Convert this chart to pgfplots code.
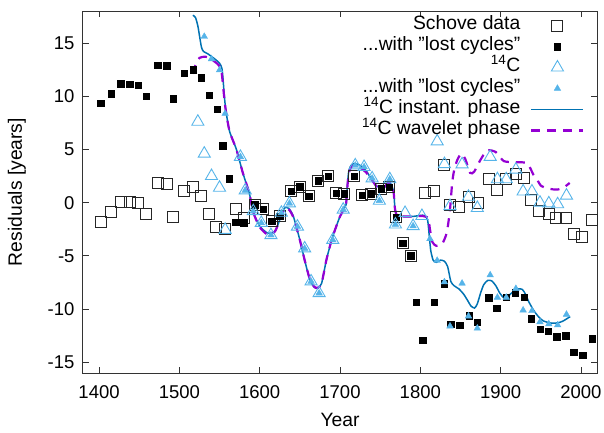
\documentclass[border=0pt]{standalone}
\usepackage{fontspec}
\setmainfont{Liberation Sans}
\usepackage{pgfplots}
\pgfplotsset{compat=1.18}
\definecolor{cfourteen}{HTML}{56B4E9}
\definecolor{instblue}{HTML}{0072B2}
\definecolor{wavpurple}{HTML}{9400D3}
\newcommand{\tickf}{\fontsize{18.5}{21}\selectfont}
\newcommand{\bigf}{\fontsize{19.3}{22}\selectfont}
\pgfplotsset{
 mylineleg/.style={legend image code/.code={\draw[##1] (0pt,0pt) -- (52pt,0pt);}},
 mymarkleg/.style={legend image code/.code={\draw[##1, mark repeat=2, mark phase=2] plot coordinates {(0pt,0pt) (26pt,0pt) (52pt,0pt)};}},
}
\begin{document}
\begin{tikzpicture}
\path[use as bounding box] (-83pt,-59pt) rectangle (521pt,373pt);
\begin{axis}[name=ax, at={(0pt,0pt)}, anchor=south west,
 scale only axis, width=514pt, height=362pt,
 xmin=1380, xmax=2020, ymin=-16, ymax=18,
 xtick={1400,1500,...,2000}, ytick={-15,-10,...,15},
 tick align=inside, major tick length=6pt,
 /pgf/number format/assume math mode=true,
 ticklabel style={font=\tickf},
 label style={font=\bigf},
 xticklabel style={/pgf/number format/1000 sep={}, anchor=base, yshift=-25pt},
 yticklabel style={anchor=east, xshift=-5pt},
 axis line style={line width=1pt, black!80},
 every tick/.style={line width=0.8pt, black!80},
 xlabel={Year}, ylabel={Residuals [years]},
 xlabel style={at={(axis description cs:0.5,0)}, anchor=base, yshift=-53pt},
 ylabel style={at={(axis description cs:0,0.5)}, anchor=center, yshift=66pt},
 legend plot pos=right, legend cell align=right,
 legend style={draw=none, fill=none, font=\bigf, at={(axis description cs:0.982,0.995)}, anchor=north east,
   row sep=0pt, column sep=8pt, nodes={inner sep=2pt, text height=12.8pt, text depth=4.2pt}},
]
% Schove data (open squares)
\addplot[only marks, mark=square, mark size=5.5pt, mark options={draw=black!85, line width=1pt}, mymarkleg] table {
x y
1402 -1.8
1415 -0.85
1427 0.1
1438 0.03
1449 -0.03
1459 -1.1
1473 1.8
1484 1.73
1492 -1.35
1506 1.1
1517 1.45
1527 0.66
1537 -1.02
1546 -2.25
1557 -2.5
1571 -0.55
1581 -1.4
1594 -0.2
1604 -0.6
1615 -1.76
1625 -1.3
1639 1.07
1650 1.5
1661 0.6
1673 2.05
1685 2.5
1695 0.9
1705 0.85
1718 2.5
1728 0.7
1739 0.85
1751 1.32
1761 1.46
1770 -1.35
1778 -3.8
1788 -5.0
1806 0.9
1817 1.08
1830 3.55
1837 -0.25
1848 -0.44
1861 0.57
1872 -0.06
1885 2.2
1895 1.2
1907 2.2
1919 2.7
1929 2.3
1938 0.25
1948 -0.75
1960 -1.07
1969 -1.4
1981 -1.4
1991 -2.9
2001 -3.2
2014 -1.6
};
\addlegendentry{Schove data}
% with lost cycles (filled squares)
\addplot[only marks, mark=square*, mark size=3.2pt, mark options={draw=black, fill=black}, mymarkleg] table {
x y
1402 9.34
1415 10.25
1427 11.16
1438 11.1
1449 11.04
1459 9.97
1473 12.9
1484 12.86
1492 9.75
1506 12.17
1517 12.48
1527 11.73
1537 10.07
1547 8.77
1554 5.35
1562 2.24
1570 -1.82
1580 -1.89
1594 -0.2
1604 -0.6
1615 -1.76
1625 -1.3
1639 1.07
1650 1.5
1661 0.6
1673 2.05
1685 2.5
1695 0.9
1705 0.85
1718 2.5
1728 0.7
1739 0.85
1751 1.32
1761 1.46
1770 -1.35
1778 -3.8
1788 -5.0
1795 -9.35
1803 -12.9
1817 -9.37
1830 -7.6
1838 -11.4
1849 -11.5
1861 -10.6
1871 -11.2
1885 -8.93
1895 -9.9
1907 -8.87
1918 -8.46
1929 -8.87
1938 -10.9
1949 -11.9
1959 -12.1
1970 -12.6
1981 -12.5
1991 -14.06
2002 -14.3
2014 -12.77
};
\addlegendentry{...with ''lost cycles''}
% 14C (open triangles)
\addplot[only marks, mark=triangle, mark size=7pt, mark options={draw=cfourteen, line width=0.9pt}, mymarkleg] table {
x y
1523 7.6
1531 4.6
1540 2.5
1550 1.4
1557 -2.55
1576 4.3
1582 1.15
1592 -0.8
1602 -1.9
1614 -3.05
1627 -0.95
1637 -0.07
1647 -2.25
1656 -4.3
1664 -7.4
1674 -8.5
1691 -3.5
1704 -0.66
1719 3.5
1730 3.35
1740 2.28
1749 0.18
1762 2.2
1769 -2.05
1781 -0.97
1791 -2.2
1802 -1.25
1821 5.75
1830 3.62
1837 -0.32
1852 3.6
1860 0.55
1871 -0.5
1887 4.3
1896 2.2
1907 2.2
1919 3.1
1928 1.05
1939 1.05
1949 0.0
1960 -0.07
1971 -0.15
1982 0.66
};
\addlegendentry{\textsuperscript{14}C}
% 14C with lost cycles (filled triangles)
\addplot[only marks, mark=triangle*, mark size=3.8pt, mark options={draw=cfourteen, fill=cfourteen}, mymarkleg] table {
x y
1531 15.6
1540 13.5
1550 12.45
1557 8.37
1576 4.3
1582 1.15
1592 -0.8
1602 -1.9
1614 -3.05
1627 -0.95
1637 -0.07
1647 -2.25
1656 -4.3
1664 -7.4
1674 -8.5
1691 -3.5
1704 -0.66
1719 3.5
1730 3.35
1740 2.28
1749 0.18
1762 2.2
1769 -2.05
1791 -2.2
1812 -3.4
1821 -5.44
1830 -7.45
1837 -11.6
1852 -7.58
1860 -10.66
1871 -11.8
1887 -6.8
1896 -8.9
1907 -8.9
1919 -8.08
1928 -10.1
1939 -10.16
1949 -11.2
1960 -11.4
1971 -11.5
1982 -10.5
};
\addlegendentry{...with ''lost cycles''}
% instant phase
\addplot[instblue, line width=1.5pt, smooth, tension=0.4, mylineleg] table {
x y
1516.7 17.6
1520 17.4
1523 16.6
1525 15.7
1527.5 14.6
1530 14.2
1535 14.0
1544 13.5
1550 13.1
1553 12.6
1554.5 11.5
1556 10.0
1558 8.6
1562.5 6.7
1571 5.0
1579 2.8
1587 0.9
1592 -0.9
1600 -2.2
1610 -2.86
1619 -2.7
1625 -1.6
1630 -0.6
1633 -0.44
1637 -0.6
1642 -1.3
1650 -3.5
1656 -5.4
1662.5 -7.26
1668 -7.95
1672 -8.05
1677 -7.6
1683 -5.4
1689.6 -3.5
1695 -2.3
1700 -1.3
1705 -0.6
1707.5 -0.2
1709 1.5
1711 3.0
1714.6 3.58
1720 3.65
1725 3.5
1733 2.95
1740 2.1
1746 1.54
1754 1.38
1760 1.8
1763 1.8
1766.7 1.1
1768.5 -0.6
1771 -1.2
1779 -1.3
1790 -1.3
1800 -1.2
1805 -1.2
1809 -1.6
1811 -3.0
1813 -4.5
1816 -5.4
1820 -5.6
1825 -5.4
1830 -5.5
1834 -6.0
1838 -7.4
1842 -7.8
1848 -8.1
1854 -8.6
1859 -9.2
1863 -9.7
1867.5 -9.9
1871 -9.5
1875 -8.5
1879 -7.7
1884 -7.3
1889 -7.35
1894 -7.8
1899 -8.5
1904 -8.95
1908 -8.95
1912 -8.6
1917 -8.3
1922 -8.1
1927 -8.15
1931 -8.6
1935 -9.3
1941 -10.1
1947 -10.7
1953 -11.1
1962 -11.3
1970 -11.3
1977 -11.15
1986.6 -10.7
};
\addlegendentry{\textsuperscript{14}C instant. phase}
% wavelet phase
\addplot[wavpurple, line width=2.2pt, dash pattern=on 9pt off 7pt, smooth, tension=0.4, mylineleg] table {
x y
1517 12.1
1520 12.9
1525 13.6
1533 13.7
1541 13.4
1548 13.0
1551 12.7
1553 12.0
1555 10.5
1557.5 8.8
1562.5 6.7
1571 5.0
1579 2.8
1587 0.9
1592 -0.9
1600 -2.3
1610 -3.0
1619 -2.7
1625 -1.6
1630 -0.6
1633 -0.5
1637 -0.7
1642 -1.4
1650 -3.5
1656 -5.4
1662.5 -7.2
1668 -7.9
1672 -8.0
1677 -7.6
1683 -5.4
1689.6 -3.5
1695 -2.3
1700 -1.3
1705 -0.6
1707.5 -0.2
1709 1.3
1711 2.8
1714.6 3.4
1720 3.5
1725 3.3
1733 2.8
1740 2.1
1746 1.5
1754 1.4
1760 1.9
1763 1.8
1766.7 1.0
1768.5 -0.6
1771 -1.2
1779 -1.3
1790 -1.3
1800 -1.25
1806 -1.3
1810 -1.5
1812 -2.5
1815 -3.7
1820 -4.06
1827 -3.9
1833 -2.8
1837 -0.6
1839.6 1.8
1842 3.0
1846 4.0
1851 4.6
1856 4.1
1862 2.8
1867 2.9
1874 3.9
1883 4.9
1894 4.75
1904 3.9
1919 3.8
1933 3.7
1941 2.6
1946 2.1
1950 1.6
1958 1.35
1965 1.25
1971 1.23
1978 1.4
1986 1.85
};
\addlegendentry{\textsuperscript{14}C wavelet phase}
\end{axis}
\end{tikzpicture}
\end{document}
